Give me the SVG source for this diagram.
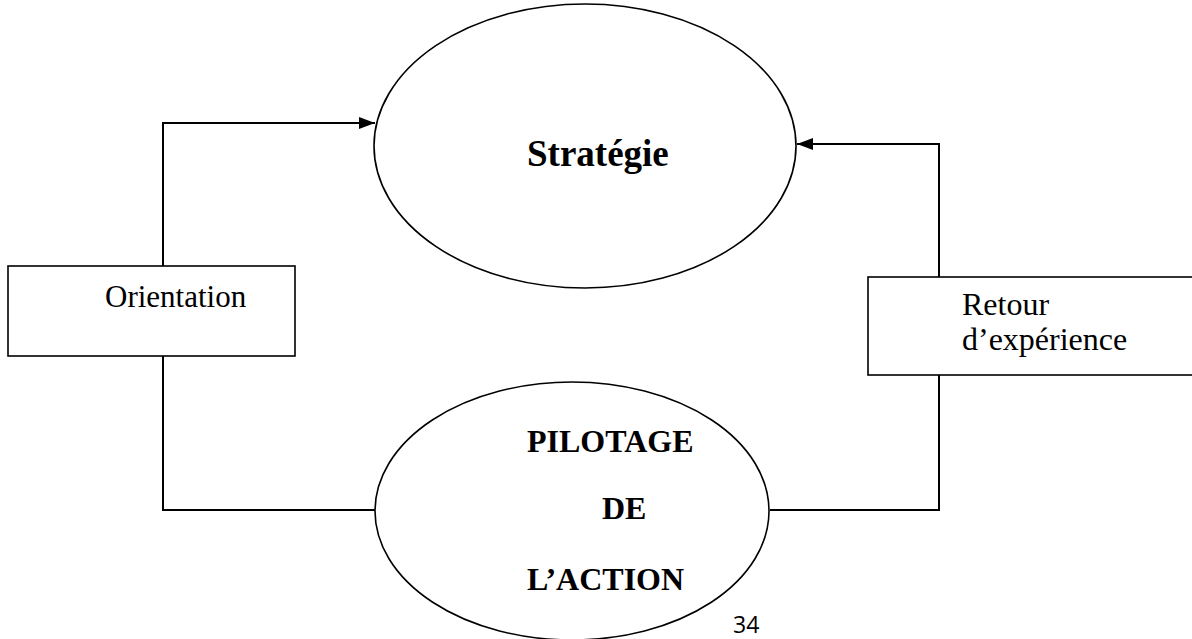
<svg xmlns="http://www.w3.org/2000/svg" width="1192" height="639" viewBox="0 0 1192 639">
<style>
.shape{fill:#fff;stroke:#000;stroke-width:1.6}
.conn{fill:none;stroke:#000;stroke-width:2}
.t{font-family:"Liberation Serif","Times New Roman",serif;fill:#000}
.b{font-weight:bold}
</style>
<defs>
<marker id="arr" viewBox="0 0 16 12" refX="16" refY="6" markerWidth="16" markerHeight="12" markerUnits="userSpaceOnUse" orient="auto">
<path d="M0,0 L16,6 L0,12 Z" fill="#000"/>
</marker>
</defs>
<rect width="1192" height="639" fill="#fff"/>
<g id="connectors">
<polyline class="conn" points="163,266 163,123 375,123" marker-end="url(#arr)"/>
<polyline class="conn" points="375,510 163,510 163,356"/>
<polyline class="conn" points="770,510 939,510 939,375"/>
<polyline class="conn" points="939,277 939,144 797,144" marker-end="url(#arr)"/>
</g>
<g id="strategie">
<ellipse class="shape" cx="585" cy="146" rx="211" ry="142"/>
<text class="t b" x="527" y="166" font-size="37">Stratégie</text>
</g>
<g id="orientation">
<rect class="shape" x="8" y="266" width="287" height="90"/>
<text class="t" x="105" y="307" font-size="31">Orientation</text>
</g>
<g id="retour">
<rect class="shape" x="868" y="277" width="330" height="98"/>
<text class="t" x="962" y="315" font-size="32">Retour</text>
<text class="t" x="962" y="350" font-size="32">d’expérience</text>
</g>
<g id="pilotage">
<ellipse class="shape" cx="572" cy="511" rx="197" ry="129"/>
<text class="t b" x="527" y="452" font-size="32">PILOTAGE</text>
<text class="t b" x="602" y="519" font-size="32">DE</text>
<text class="t b" x="527" y="590" font-size="32">L’ACTION</text>
</g>
<text x="733" y="633" font-family="'Open Sans','Noto Sans',sans-serif" font-size="23" fill="#000">34</text>
</svg>
